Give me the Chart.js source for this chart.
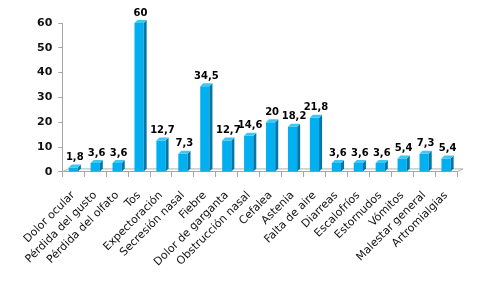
<!DOCTYPE html>
<html lang="es">
<head>
<meta charset="UTF-8">
<title>Síntomas</title>
<script src="https://cdn.jsdelivr.net/npm/chart.js"></script>
<style>
    html, body { margin: 0; padding: 0; background: #fff; }
    #wrap { width: 487px; height: 281px; }
</style>
</head>
<body>
<div id="wrap"><canvas id="chart"></canvas></div>
<script>
const symptoms = ['Dolor ocular', 'Pérdida del gusto', 'Pérdida del olfato', 'Tos', 'Expectoración',
    'Secresión nasal', 'Fiebre', 'Dolor de garganta', 'Obstrucción nasal', 'Cefalea', 'Astenia',
    'Falta de aire', 'Diarreas', 'Escalofríos', 'Estornudos', 'Vómitos', 'Malestar general', 'Artromialgias'];
const percents = [1.8, 3.6, 3.6, 60, 12.7, 7.3, 34.5, 12.7, 14.6, 20, 18.2, 21.8, 3.6, 3.6, 3.6, 5.4, 7.3, 5.4];
const yTicks = [0, 10, 20, 30, 40, 50, 60];

const fmt = v => String(v).replace('.', ',');
const depth = 3;

// thin 3D floor behind the bars
const floor3d = {
    id: 'floor3d',
    beforeDatasetsDraw(chart) {
        const { ctx, chartArea: a } = chart;
        ctx.save();
        ctx.strokeStyle = '#b0b0b0';
        ctx.lineWidth = 1;
        ctx.beginPath();
        ctx.moveTo(a.left, a.bottom);
        ctx.lineTo(a.left + depth * 2, a.bottom - depth);
        ctx.lineTo(a.right + depth * 2, a.bottom - depth);
        ctx.lineTo(a.right, a.bottom);
        ctx.stroke();
        ctx.restore();
    }
};

// fake 3D side + top on each bar, and the value label above
const bar3d = {
    id: 'bar3d',
    afterDatasetsDraw(chart) {
        const ctx = chart.ctx;
        const meta = chart.getDatasetMeta(0);
        const d = depth;
        ctx.save();
        meta.data.forEach((bar, i) => {
            const left = bar.x - bar.width / 2, right = bar.x + bar.width / 2;
            const top = bar.y, bottom = bar.base;
            ctx.fillStyle = '#0077a8';
            ctx.beginPath();
            ctx.moveTo(right, top);
            ctx.lineTo(right + d, top - d);
            ctx.lineTo(right + d, bottom - d);
            ctx.lineTo(right, bottom);
            ctx.closePath();
            ctx.fill();
            ctx.fillStyle = '#3fc6f5';
            ctx.beginPath();
            ctx.moveTo(left, top);
            ctx.lineTo(left + d, top - d);
            ctx.lineTo(right + d, top - d);
            ctx.lineTo(right, top);
            ctx.closePath();
            ctx.fill();
            ctx.fillStyle = '#000';
            ctx.font = 'bold 10px "DejaVu Sans"';
            ctx.textAlign = 'center';
            ctx.textBaseline = 'bottom';
            ctx.fillText(fmt(percents[i]), bar.x + d / 2, top - d - 2);
        });
        ctx.restore();
    }
};

new Chart(document.getElementById('chart'), {
    type: 'bar',
    data: {
        labels: symptoms,
        datasets: [{
            data: percents,
            backgroundColor: '#00b0f0',
            borderWidth: 0,
            barPercentage: 0.42,
            categoryPercentage: 1
        }]
    },
    options: {
        responsive: true,
        maintainAspectRatio: false,
        animation: false,
        layout: { padding: { top: 23, right: 30, left: 31, bottom: 0 } },
        plugins: { legend: { display: false }, tooltip: { enabled: false } },
        scales: {
            x: {
                grid: { display: true, drawOnChartArea: false, offset: true, tickLength: 5, color: '#a6a6a6' },
                border: { color: '#a6a6a6' },
                ticks: {
                    color: '#111',
                    font: { family: 'DejaVu Sans', size: 11 },
                    minRotation: 45,
                    maxRotation: 45,
                    autoSkip: false,
                    padding: 12
                }
            },
            y: {
                min: 0,
                max: 60,
                afterBuildTicks: axis => { axis.ticks = yTicks.map(v => ({ value: v })); },
                grid: { drawOnChartArea: false, tickLength: 4, color: '#a6a6a6' },
                border: { color: '#a6a6a6' },
                ticks: {
                    color: '#111',
                    font: { family: 'DejaVu Sans', size: 11, weight: 'bold' },
                    padding: 6
                }
            }
        }
    },
    plugins: [floor3d, bar3d]
});
</script>
</body>
</html>
